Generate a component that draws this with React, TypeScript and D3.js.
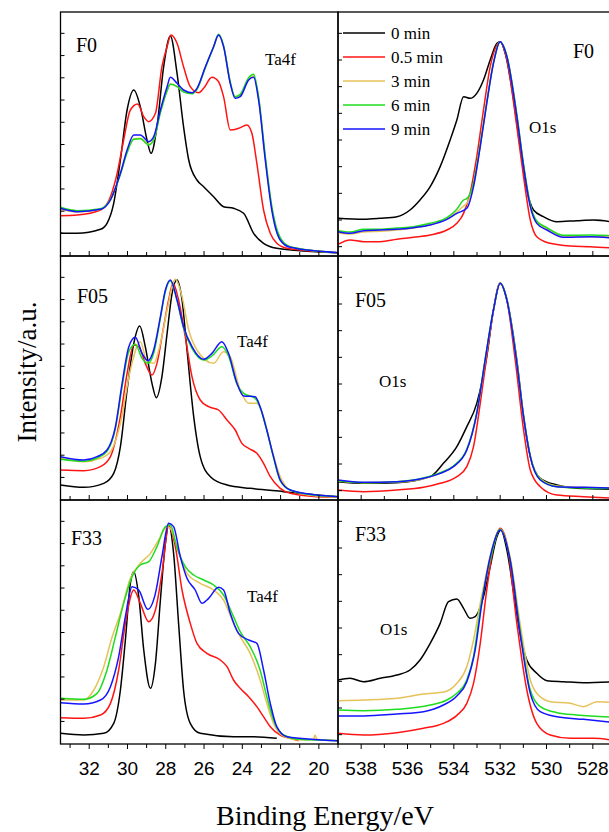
import { useEffect, useRef } from "react"
import * as d3 from "d3"

type Pt = [number, number]

// [binding energy (eV), intensity (a.u.)], one array per spectrum
// F0, Ta4f
const f0TaBlack: Pt[] = [[33.5,70],[33.33,68],[32.63,68],[31.41,80],[31.07,98],[30.72,158],[30.37,288],[30.02,438],[29.67,498],[29.33,448],[28.98,348],[28.77,308],[28.46,388],[28.11,568],[27.76,660],[27.41,548],[27.07,388],[26.8,288],[26.37,228],[26.02,208],[25.5,178],[24.98,148],[24.46,143],[23.93,128],[23.41,68],[22.89,38],[22.2,23],[20.98,16],[19.0,10]]
const f0TaRed: Pt[] = [[33.5,121],[32.63,123],[31.41,138],[30.89,178],[30.54,248],[30.2,348],[29.85,438],[29.47,456],[29.15,418],[28.89,403],[28.54,428],[28.2,568],[27.93,628],[27.73,663],[27.41,638],[27.07,568],[26.72,508],[26.28,490],[26.02,503],[25.59,536],[25.24,523],[24.98,478],[24.63,378],[24.2,383],[23.76,393],[23.5,368],[23.24,278],[22.89,138],[22.54,68],[22.2,38],[21.67,23],[19.0,10]]
const f0TaGold: Pt[] = [[33.5,140],[32.63,132],[31.41,140],[30.89,168],[30.37,246],[30.02,312],[29.67,352],[29.33,353],[28.89,335],[28.63,350],[28.28,432],[27.93,497],[27.76,517],[27.41,509],[27.07,494],[26.63,488],[26.37,500],[25.93,566],[25.5,627],[25.24,662],[24.98,630],[24.63,520],[24.37,475],[24.11,482],[23.67,530],[23.41,540],[23.15,474],[22.8,295],[22.46,145],[22.02,52],[21.5,27],[19.0,10]]
const f0TaGreen: Pt[] = [[33.5,146],[32.63,136],[31.41,142],[30.89,170],[30.37,245],[30.02,310],[29.67,350],[29.33,352],[28.89,333],[28.63,348],[28.28,430],[27.93,495],[27.76,515],[27.41,508],[27.07,492],[26.63,487],[26.37,500],[25.93,565],[25.5,628],[25.24,665],[24.98,632],[24.63,522],[24.37,478],[24.11,485],[23.67,535],[23.41,545],[23.15,478],[22.8,300],[22.46,150],[22.02,55],[21.5,28],[19.0,10]]
const f0TaBlue: Pt[] = [[33.5,143],[32.63,133],[31.41,140],[30.89,168],[30.37,248],[30.02,318],[29.67,363],[29.33,363],[28.89,343],[28.63,358],[28.28,438],[27.93,508],[27.76,536],[27.41,518],[27.07,498],[26.63,490],[26.37,503],[25.93,568],[25.5,628],[25.24,663],[24.98,628],[24.63,518],[24.37,473],[24.11,478],[23.67,528],[23.41,536],[23.15,468],[22.8,288],[22.46,138],[22.02,48],[21.5,26],[19.0,10]]

// F0, O1s
const f0OBlack: Pt[] = [[539.0,113],[537.9,110],[537.18,113],[536.46,118],[535.89,138],[535.46,168],[535.02,208],[534.59,268],[534.16,348],[533.87,408],[533.58,478],[533.3,473],[533.01,488],[532.72,528],[532.43,588],[532.14,638],[532.0,643],[531.78,608],[531.42,468],[531.14,328],[530.85,198],[530.56,138],[530.13,118],[529.55,103],[528.69,106],[527.97,108],[527.0,100]]
const f0ORed: Pt[] = [[539.0,35],[538.48,48],[537.9,43],[537.18,43],[536.46,50],[535.74,56],[535.02,63],[534.3,78],[533.87,98],[533.58,128],[533.3,188],[533.01,298],[532.72,438],[532.43,568],[532.14,633],[532.0,643],[531.71,588],[531.28,388],[530.99,238],[530.7,108],[530.42,58],[529.84,38],[528.98,30],[528.11,28],[527.0,23]]
const f0OGold: Pt[] = [[539.0,68],[538.48,66],[537.9,72],[537.18,74],[536.46,78],[535.74,84],[535.02,94],[534.3,112],[533.87,132],[533.58,150],[533.44,158],[533.15,212],[532.86,330],[532.58,458],[532.29,578],[532.0,642],[531.71,600],[531.28,422],[530.99,272],[530.7,152],[530.42,102],[529.98,82],[529.26,60],[528.11,58],[527.0,58]]
const f0OGreen: Pt[] = [[539.0,76],[538.48,72],[537.9,80],[537.18,80],[536.46,84],[535.74,88],[535.02,98],[534.3,115],[533.87,140],[533.58,168],[533.44,172],[533.15,220],[532.86,335],[532.58,462],[532.29,580],[532.0,642],[531.71,600],[531.28,425],[530.99,275],[530.7,155],[530.42,105],[529.98,85],[529.26,62],[528.11,63],[527.0,60]]
const f0OBlue: Pt[] = [[539.0,73],[538.48,68],[537.9,76],[537.18,78],[536.46,80],[535.74,85],[535.02,93],[534.3,110],[533.87,128],[533.44,143],[533.15,208],[532.86,328],[532.58,458],[532.29,578],[532.0,643],[531.71,598],[531.28,418],[530.99,268],[530.7,148],[530.42,98],[529.98,78],[529.26,56],[528.11,58],[527.0,53]]

// F05, Ta4f
const f05TaBlack: Pt[] = [[33.5,45],[32.28,38],[31.24,50],[30.72,80],[30.37,160],[30.02,330],[29.67,470],[29.36,522],[29.07,460],[28.72,350],[28.49,307],[28.2,370],[27.93,500],[27.67,620],[27.41,660],[27.15,600],[26.89,450],[26.54,250],[26.2,130],[25.67,70],[24.8,45],[23.59,35],[21.85,25],[20.11,15],[19.0,10]]
const f05TaRed: Pt[] = [[33.5,90],[32.28,88],[31.41,100],[30.89,130],[30.37,250],[30.02,380],[29.67,465],[29.41,460],[29.07,410],[28.72,375],[28.46,410],[28.11,520],[27.85,600],[27.62,650],[27.33,600],[26.98,490],[26.63,370],[26.2,300],[25.76,280],[25.24,270],[24.8,240],[24.37,210],[24.02,170],[23.67,155],[23.24,140],[22.89,110],[22.54,70],[22.02,35],[21.5,20],[20.11,10],[19.0,8]]
const f05TaGold: Pt[] = [[33.5,125],[32.28,115],[31.41,125],[30.89,145],[30.37,230],[29.85,390],[29.33,475],[28.98,415],[28.63,410],[28.28,470],[27.93,570],[27.5,662],[27.15,610],[26.8,510],[26.37,450],[25.5,410],[24.98,445],[24.63,430],[24.11,330],[23.67,290],[23.24,290],[22.89,250],[22.54,170],[22.02,70],[21.5,30],[20.11,12],[19.0,8]]
const f05TaGreen: Pt[] = [[33.5,122],[32.28,116],[31.59,126],[31.07,146],[30.63,214],[30.28,340],[29.93,445],[29.59,467],[29.24,425],[28.93,410],[28.63,440],[28.28,545],[28.02,625],[27.76,658],[27.41,598],[27.07,515],[26.63,455],[26.02,420],[25.59,432],[25.07,460],[24.72,432],[24.28,348],[23.93,320],[23.33,305],[23.07,278],[22.72,208],[22.37,128],[22.02,58],[21.5,30],[20.11,14],[19.0,10]]
const f05TaBlue: Pt[] = [[33.5,130],[32.28,120],[31.59,130],[31.07,150],[30.63,220],[30.28,350],[29.93,460],[29.59,488],[29.24,440],[28.93,418],[28.63,450],[28.28,550],[28.02,630],[27.76,660],[27.41,600],[27.07,520],[26.63,460],[26.02,422],[25.59,440],[25.07,475],[24.72,440],[24.28,350],[23.93,312],[23.33,310],[23.07,280],[22.72,210],[22.37,130],[22.02,60],[21.5,30],[20.11,15],[19.0,10]]

// F05, O1s
const f05OBlack: Pt[] = [[539.0,55],[537.9,50],[536.46,52],[535.02,70],[534.45,110],[533.87,160],[533.44,220],[533.01,290],[532.58,430],[532.29,570],[532.0,650],[531.71,600],[531.28,420],[530.99,250],[530.7,130],[530.27,65],[529.55,45],[528.69,35],[527.0,32]]
const f05ORed: Pt[] = [[539.0,30],[537.9,25],[536.46,30],[535.31,38],[534.59,50],[533.87,70],[533.44,100],[533.15,160],[532.86,290],[532.58,430],[532.29,570],[532.0,650],[531.71,600],[531.35,420],[530.99,210],[530.7,90],[530.27,40],[529.55,15],[528.4,10],[527.0,5]]
const f05OGold: Pt[] = [[539.0,57],[537.9,52],[536.46,54],[535.31,64],[534.59,80],[534.02,100],[533.44,150],[533.01,258],[532.65,418],[532.29,568],[532.0,652],[531.71,604],[531.28,415],[530.99,255],[530.7,134],[530.27,64],[529.55,42],[528.4,38],[527.0,36]]
const f05OGreen: Pt[] = [[539.0,58],[537.9,52],[536.46,55],[535.31,66],[534.59,82],[534.02,102],[533.44,152],[533.01,262],[532.65,420],[532.29,570],[532.0,650],[531.71,602],[531.28,412],[530.99,252],[530.7,132],[530.27,62],[529.55,40],[528.4,36],[527.0,34]]
const f05OBlue: Pt[] = [[539.0,60],[537.9,53],[536.46,55],[535.31,65],[534.59,80],[534.02,100],[533.44,150],[533.01,260],[532.65,420],[532.29,570],[532.0,650],[531.71,600],[531.28,410],[530.99,250],[530.7,130],[530.27,60],[529.55,40],[528.4,38],[527.0,35]]

// F33, Ta4f
const f33TaBlack: Pt[] = [[33.5,32],[32.28,27],[31.24,32],[30.72,62],[30.37,162],[30.11,312],[29.85,482],[29.67,517],[29.41,442],[29.15,282],[28.8,167],[28.54,242],[28.28,432],[28.02,602],[27.85,657],[27.59,572],[27.33,362],[27.07,162],[26.72,62],[26.2,32],[24.46,22],[23.59,22],[22.2,17]]
const f33TaRed: Pt[] = [[33.5,79],[32.28,77],[31.41,87],[30.89,122],[30.46,222],[30.11,362],[29.67,462],[29.33,422],[28.89,367],[28.54,402],[28.2,512],[27.85,654],[27.5,592],[27.15,462],[26.72,362],[26.37,302],[25.85,272],[25.15,252],[24.8,232],[24.46,192],[24.11,167],[23.67,142],[23.24,112],[22.89,82],[22.54,52],[22.02,27],[21.5,17],[21.07,10]]
const f33TaGold: Pt[] = [[33.5,132],[32.28,132],[31.76,162],[31.24,232],[30.8,322],[30.37,392],[29.85,497],[29.33,542],[28.8,572],[28.37,612],[27.93,652],[27.76,647],[27.41,592],[26.89,512],[26.2,482],[25.5,462],[24.98,432],[24.46,362],[24.11,322],[23.59,272],[23.07,192],[22.72,122],[22.37,62],[21.85,24],[20.98,12],[20.28,14],[20.2,27],[20.11,14],[19.0,10]]
const f33TaGreen: Pt[] = [[33.5,137],[32.28,134],[31.59,152],[31.07,222],[30.63,322],[30.2,422],[29.76,502],[29.33,537],[28.89,547],[28.46,592],[28.02,652],[27.76,657],[27.41,587],[26.98,532],[26.54,507],[26.02,492],[25.5,477],[24.98,447],[24.46,382],[24.11,337],[23.59,292],[23.07,222],[22.72,142],[22.37,72],[21.85,27],[20.98,14],[19.0,10]]
const f33TaBlue: Pt[] = [[33.5,124],[32.28,120],[31.41,132],[30.89,172],[30.46,262],[30.11,382],[29.76,472],[29.41,462],[28.94,404],[28.54,452],[28.2,562],[27.85,662],[27.59,652],[27.24,562],[26.89,497],[26.46,462],[26.11,422],[25.76,437],[25.24,470],[24.98,462],[24.63,392],[24.2,332],[23.67,312],[23.24,302],[22.89,222],[22.54,122],[22.2,52],[21.67,22],[19.0,10]]

// F33, O1s
const f33OBlack: Pt[] = [[539.0,192],[538.48,197],[537.9,187],[537.18,197],[536.46,207],[535.89,222],[535.46,252],[535.02,302],[534.59,362],[534.23,427],[533.87,435],[533.58,407],[533.3,377],[533.08,382],[532.72,442],[532.43,532],[532.14,622],[531.97,642],[531.71,582],[531.35,422],[531.06,302],[530.85,252],[530.42,212],[529.98,190],[529.26,187],[528.4,184],[527.0,187]]
const f33ORed: Pt[] = [[539.0,32],[537.9,27],[536.46,34],[535.31,47],[534.45,62],[533.87,86],[533.44,122],[533.15,182],[532.86,302],[532.58,462],[532.29,592],[532.0,647],[531.71,602],[531.28,362],[530.85,162],[530.42,62],[529.84,27],[528.98,17],[527.97,17],[527.0,10]]
const f33OGold: Pt[] = [[539.0,130],[537.9,132],[536.46,137],[535.31,150],[534.38,157],[533.87,182],[533.44,232],[533.15,312],[532.86,422],[532.43,562],[532.0,644],[531.57,562],[531.14,362],[530.7,192],[530.42,152],[529.84,127],[528.98,122],[528.4,112],[527.82,127],[527.0,124]]
const f33OGreen: Pt[] = [[539.0,102],[537.9,100],[536.46,104],[535.02,117],[534.3,132],[533.87,152],[533.44,192],[533.15,262],[532.86,402],[532.43,552],[532.0,644],[531.57,552],[531.14,342],[530.7,162],[530.27,112],[529.55,94],[528.69,87],[527.0,80]]
const f33OBlue: Pt[] = [[539.0,84],[537.9,84],[536.46,90],[535.31,97],[534.45,117],[533.87,144],[533.44,187],[533.08,282],[532.79,422],[532.43,562],[532.0,642],[531.57,552],[531.14,332],[530.7,152],[530.27,97],[529.55,82],[528.4,74],[527.0,64]]

const seriesNames = ["0 min", "0.5 min", "3 min", "6 min", "9 min"]
const seriesColors = ["#000000", "#ff1414", "#e6c25a", "#1edc1e", "#1414ff"]
const sampleNames = ["F0", "F05", "F33"]
const taTicks = [32, 30, 28, 26, 24, 22, 20]
const oTicks = [538, 536, 534, 532, 530, 528]

const taRows = [
    [f0TaBlack, f0TaRed, f0TaGold, f0TaGreen, f0TaBlue],
    [f05TaBlack, f05TaRed, f05TaGold, f05TaGreen, f05TaBlue],
    [f33TaBlack, f33TaRed, f33TaGold, f33TaGreen, f33TaBlue],
]
const oRows = [
    [f0OBlack, f0ORed, f0OGold, f0OGreen, f0OBlue],
    [f05OBlack, f05ORed, f05OGold, f05OGreen, f05OBlue],
    [f33OBlack, f33ORed, f33OGold, f33OGreen, f33OBlue],
]

const serif = "'Liberation Serif', 'Times New Roman', serif"
const sans = "'Liberation Sans', Arial, sans-serif"

export default function App() {
    const svgRef = useRef<SVGSVGElement>(null)

    useEffect(() => {
        const svg = d3.select(svgRef.current)
        svg.selectAll("*").remove()

        const rowH = 244
        const rowTop = (i: number) => 12 + i * rowH
        const xTa = d3.scaleLinear([33.5, 19], [60.5, 338])
        const xO = d3.scaleLinear([539, 527], [338, 616])
        const defs = svg.append("defs")

        const drawPanel = (i: number, side: string, x: d3.ScaleLinear<number, number>, rows: Pt[][][], major: number[], minor: number[], yStep: number, yStart: number) => {
            const top = rowTop(i)
            const y = d3.scaleLinear([0, 732], [top + rowH, top])
            const [x0, x1] = x.range()
            const id = `clip-${side}-${i}`
            defs.append("clipPath").attr("id", id)
                .append("rect").attr("x", x0).attr("y", top).attr("width", x1 - x0).attr("height", rowH)

            const g = svg.append("g")
            const line = d3.line<Pt>().x(d => x(d[0])).y(d => y(d[1])).curve(d3.curveMonotoneX)
            g.append("g").attr("clip-path", `url(#${id})`)
                .selectAll("path")
                .data(rows[i])
                .join("path")
                .attr("fill", "none")
                .attr("stroke", (_, k) => seriesColors[k])
                .attr("stroke-width", 1.5)
                .attr("stroke-linejoin", "round")
                .attr("d", d => line(d))

            // frame
            g.append("rect").attr("x", x0).attr("y", top).attr("width", x1 - x0).attr("height", rowH)
                .attr("fill", "none").attr("stroke", "#000").attr("stroke-width", 1.3)

            // y ticks pointing inward
            g.selectAll(".yt").data(d3.range(yStart, 732, yStep)).join("line")
                .attr("x1", x0).attr("x2", x0 + 4)
                .attr("y1", d => y(d)).attr("y2", d => y(d))
                .attr("stroke", "#000").attr("stroke-width", 1)

            // x ticks: inward on the upper rows, outward with labels on the last row
            const dir = i === 2 ? 1 : -1
            const base = top + rowH
            g.selectAll(".xm").data(minor).join("line")
                .attr("x1", d => x(d)).attr("x2", d => x(d))
                .attr("y1", base).attr("y2", d => base + dir * (major.includes(d) ? 5 : 4))
                .attr("stroke", "#000").attr("stroke-width", 1)

            if (i === 2) {
                g.selectAll(".xl").data(major).join("text")
                    .attr("x", d => x(d))
                    .attr("y", base + 31)
                    .attr("text-anchor", "middle")
                    .attr("font-family", sans)
                    .attr("font-size", 19)
                    .text(d => `${d}`)
            }
        }

        const taMinor = d3.range(33, 19.5, -1)
        const oMinor = d3.range(539, 527, -1)
        for (let i = 0; i < 3; i++) {
            drawPanel(i, "ta", xTa, taRows, taTicks, taMinor, 66.7, 67.7)
            drawPanel(i, "o", xO, oRows, oTicks, oMinor, 80, 28)
        }

        // panel labels
        const labels = [
            { t: sampleNames[0], x: 76, y: 52, s: 20 },
            { t: "Ta4f", x: 265, y: 65, s: 17 },
            { t: sampleNames[0], x: 573, y: 58, s: 20 },
            { t: "O1s", x: 529, y: 133, s: 17 },
            { t: sampleNames[1], x: 77, y: 303, s: 20 },
            { t: "Ta4f", x: 237, y: 347, s: 17 },
            { t: sampleNames[1], x: 355, y: 307, s: 20 },
            { t: "O1s", x: 379, y: 387, s: 17 },
            { t: sampleNames[2], x: 71, y: 545, s: 20 },
            { t: "Ta4f", x: 247, y: 602, s: 17 },
            { t: sampleNames[2], x: 355, y: 541, s: 20 },
            { t: "O1s", x: 380, y: 635, s: 17 },
        ]
        svg.append("g").selectAll("text").data(labels).join("text")
            .attr("x", d => d.x).attr("y", d => d.y)
            .attr("font-family", serif).attr("font-size", d => d.s)
            .text(d => d.t)

        // legend
        const legend = svg.append("g").selectAll("g").data(seriesNames).join("g")
            .attr("transform", (_, k) => `translate(343, ${33 + k * 24})`)
        legend.append("line").attr("x1", 0).attr("x2", 42)
            .attr("stroke", (_, k) => seriesColors[k]).attr("stroke-width", 1.5)
        legend.append("text").attr("x", 48).attr("y", 6)
            .attr("font-family", serif).attr("font-size", 17)
            .text(d => d)

        // axis titles
        svg.append("text")
            .attr("transform", "translate(36, 372) rotate(-90)")
            .attr("text-anchor", "middle")
            .attr("font-family", serif).attr("font-size", 27)
            .text("Intensity/a.u.")
        svg.append("text")
            .attr("x", 325).attr("y", 825)
            .attr("text-anchor", "middle")
            .attr("font-family", serif).attr("font-size", 28)
            .text("Binding Energy/eV")
    }, [])

    return <svg ref={svgRef} width={609} height={832}
        style={{ position: "absolute", left: 0, top: 0, background: "#fff", display: "block" }} />
}
